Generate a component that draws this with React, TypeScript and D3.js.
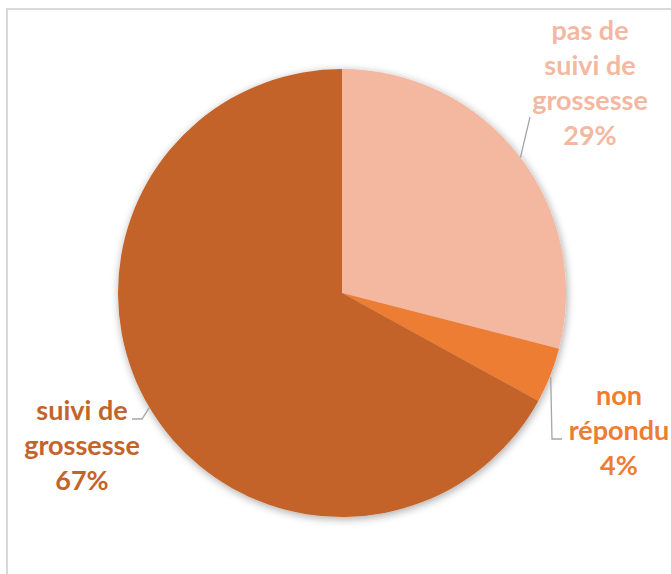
import React from "react";
import * as d3 from "d3";

const categories = ["pas de suivi de grossesse", "non répondu", "suivi de grossesse"];
const values = [29, 4, 67];
const percentLabels = ["29%", "4%", "67%"];
const labelLines = [["pas de", "suivi de", "grossesse", "29%"], ["non", "répondu", "4%"], ["suivi de", "grossesse", "67%"]];
const colors = ["#F4B8A1", "#ED7D31", "#C3642A"];

export default function App() {
  const W = 671, H = 574;
  const cx = 342, cy = 293, r = 224;
  const pie = d3.pie<number>().sort(null).value((d) => d);
  const arcs = pie(values);
  const arcGen = d3.arc<d3.PieArcDatum<number>>().innerRadius(0).outerRadius(r);

  const labelPos = [
    { x: 590, y: 40 },
    { x: 619, y: 405 },
    { x: 82, y: 420 },
  ];
  const lineH = 35;

  const edge = (angDeg: number, rr = r) => {
    const a = (angDeg * Math.PI) / 180;
    return [cx + rr * Math.sin(a), cy - rr * Math.cos(a)];
  };
  const l0s = edge(52.8);
  const l1s = edge(112);
  const l2s = edge(239.3);
  const leaders = [
    `M${l0s[0]},${l0s[1]}L530,117`,
    `M${l1s[0] + 1},${l1s[1]}L552,439L562,439`,
    `M${l2s[0]},${l2s[1]}L142,419L132,419`,
  ];

  return (
    <svg width={W} height={H} style={{ position: "absolute", left: 0, top: 0 }}>
      <defs>
        <filter id="sh" x="-20%" y="-20%" width="140%" height="140%">
          <feGaussianBlur in="SourceAlpha" stdDeviation="4" />
          <feOffset dx="1" dy="2" result="b" />
          <feComponentTransfer>
            <feFuncA type="linear" slope="0.35" />
          </feComponentTransfer>
          <feMerge>
            <feMergeNode />
            <feMergeNode in="SourceGraphic" />
          </feMerge>
        </filter>
      </defs>
      <rect x={0} y={0} width={W} height={H} fill="#fff" />
      <rect x={7} y={9} width={W + 20} height={H + 20} fill="none" stroke="#d9d9d9" strokeWidth={2} />
      <g transform={`translate(${cx},${cy})`} filter="url(#sh)">
        {arcs.map((a, i) => (
          <path key={categories[i]} d={arcGen(a) || ""} fill={colors[i]} />
        ))}
      </g>
      {leaders.map((d, i) => (
        <path key={i} d={d} fill="none" stroke="#a6a6a6" strokeWidth={1.3} />
      ))}
      {labelLines.map((lines, i) => (
        <text
          key={percentLabels[i]}
          textAnchor="middle"
          fontFamily="Lato, 'Open Sans', sans-serif"
          fontWeight="bold"
          fontSize={27}
          fill={colors[i]}
        >
          {lines.map((t, j) => (
            <tspan key={j} x={labelPos[i].x} y={labelPos[i].y + j * lineH}>
              {t}
            </tspan>
          ))}
        </text>
      ))}
    </svg>
  );
}
